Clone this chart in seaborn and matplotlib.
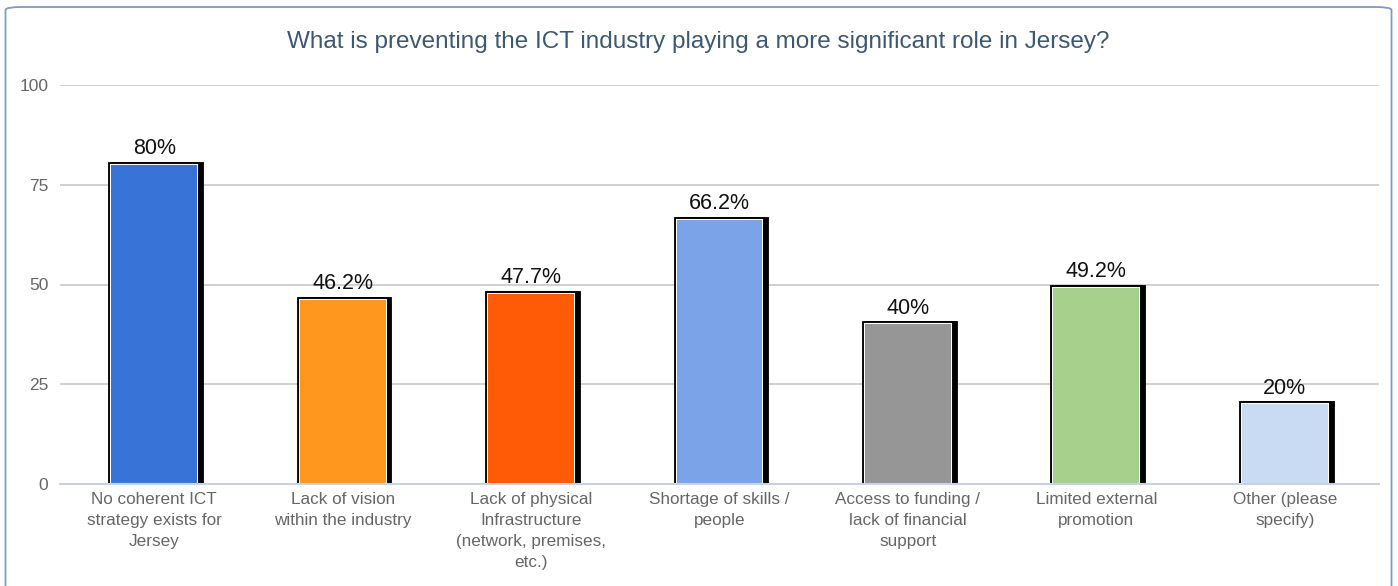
import matplotlib
matplotlib.use("Agg")
import matplotlib.pyplot as plt
import matplotlib.patheffects as pe
from matplotlib.patches import FancyBboxPatch
import seaborn as sns
import numpy as np
import pandas as pd

categories = [
    "No coherent ICT\nstrategy exists for\nJersey",
    "Lack of vision\nwithin the industry",
    "Lack of physical\nInfrastructure\n(network, premises,\netc.)",
    "Shortage of skills /\npeople",
    "Access to funding /\nlack of financial\nsupport",
    "Limited external\npromotion",
    "Other (please\nspecify)",
]
values = [80, 46.2, 47.7, 66.2, 40, 49.2, 20]
value_labels = ["80%", "46.2%", "47.7%", "66.2%", "40%", "49.2%", "20%"]
colors = ["#3874D8", "#FF961E", "#FF5A05", "#7BA4E8", "#969696", "#A6D08C", "#C9DAF3"]
yticks = [0, 25, 50, 75, 100]
title = "What is preventing the ICT industry playing a more significant role in Jersey?"

sns.set_theme(style="white")
plt.rcParams["font.family"] = ["Liberation Sans", "DejaVu Sans"]

fig = plt.figure(figsize=(13.98, 5.86), dpi=100)
ax = fig.add_axes([60 / 1398, 102 / 586, (1379 - 60) / 1398, (484 - 85) / 586])

df = pd.DataFrame({"category": categories, "value": values})
sns.barplot(data=df, x="category", y="value", hue="category", palette=colors,
            legend=False, width=0.455, linewidth=0, saturation=1, ax=ax, zorder=3)

# black drop shadow on the right, black frame with a thin white inner rim
effects = [
    pe.PathPatchEffect(offset=(2.8, 0), facecolor="black", edgecolor="black", linewidth=4.2),
    pe.Stroke(linewidth=4.2, foreground="black"),
    pe.Stroke(linewidth=1.5, foreground="white"),
    pe.Normal(),
]
for patch in ax.patches:
    patch.set_path_effects(effects)

for i, (v, lab) in enumerate(zip(values, value_labels)):
    ax.annotate(lab, (i, v), xytext=(0, 4), textcoords="offset points",
                ha="center", va="bottom", fontsize=15.5, color="#111111")

ax.set_ylim(0, 100)
ax.set_xlim(-0.5, len(categories) - 0.5)
ax.set_yticks(yticks)
ax.set_yticklabels([str(t) for t in yticks], fontsize=12.5, color="#666666")
ax.set_xticks(range(len(categories)))
ax.set_xticklabels(categories, fontsize=12.3, color="#666666", linespacing=1.5)
ax.yaxis.grid(True, color="#C8C8C8", linewidth=1.2, zorder=0)
ax.xaxis.grid(False)
ax.set_axisbelow(True)
ax.set_xlabel("")
ax.set_ylabel("")
ax.tick_params(axis="y", length=0, pad=8.5)
ax.tick_params(axis="x", which="major", length=0, pad=6)
ax.set_xticks(np.arange(-0.5, len(categories), 1.0), minor=True)
ax.tick_params(axis="x", which="minor", length=6, width=1.2, color="#C5D3E5")
for s in ["top", "right", "left"]:
    ax.spines[s].set_visible(False)
ax.spines["bottom"].set_color("#C5D3E5")
ax.spines["bottom"].set_linewidth(1.5)
ax.spines["bottom"].set_zorder(4)

fig.text(698 / 1398, 1 - 42 / 586, title, ha="center", va="center",
         fontsize=17.5, color="#3D5873")

border = FancyBboxPatch((5.5 / 1398, -20 / 586), (1386 / 1398), (599 / 586),
                        boxstyle="round,pad=0,rounding_size=0.012",
                        transform=fig.transFigure, fill=False,
                        edgecolor="#7A9CC6", linewidth=1.3, mutation_aspect=586 / 1398)
fig.patches.append(border)

fig.savefig("out.png", dpi=100)
